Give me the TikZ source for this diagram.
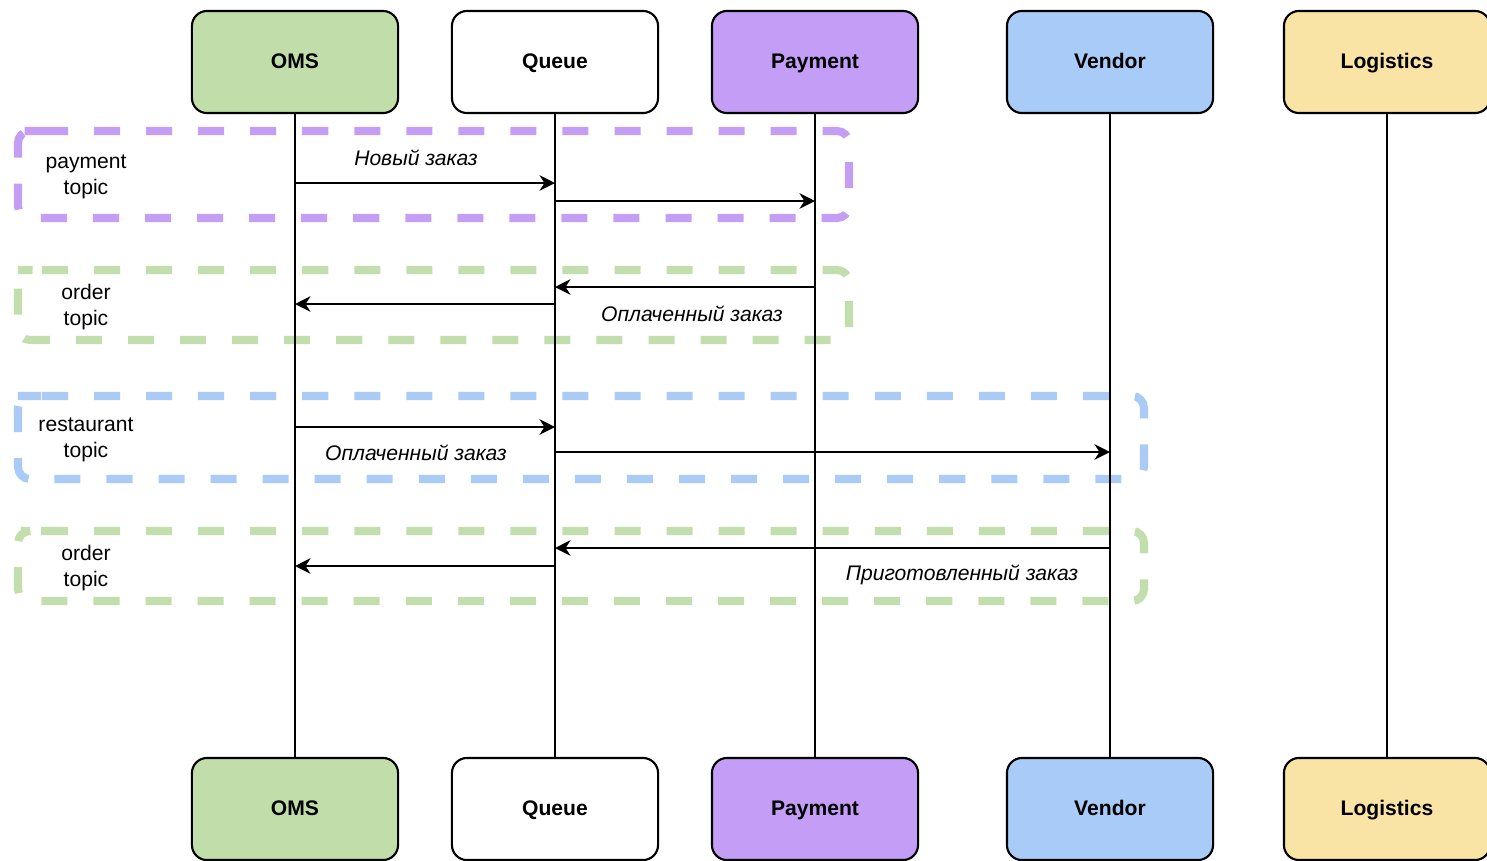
\documentclass[tikz,border=0pt]{standalone}
\usepackage{fontspec}
\setmainfont{Liberation Sans}
\usetikzlibrary{arrows.meta}
\definecolor{cgreen}{HTML}{C1DEAA}
\definecolor{cpurple}{HTML}{C39DF6}
\definecolor{cblue}{HTML}{A8CBF8}
\definecolor{cyellow}{HTML}{F9E4A5}
\definecolor{dgreen}{HTML}{C3DEAD}
\definecolor{dpurple}{HTML}{C49EF4}
\definecolor{dblue}{HTML}{A9CBF6}
\tikzset{
  actor/.style={draw=black, line width=0.6pt, rounded corners=0.15cm, minimum width=2.06cm, minimum height=1.02cm, font=\fontsize{6}{7.2}\selectfont\bfseries, inner sep=0pt, text height=4.6pt, text depth=1pt},
  lifeline/.style={draw=black, line width=0.5pt},
  msg/.style={draw=black, line width=0.5pt, -{Stealth[length=4.4pt,width=4.4pt,inset=1.4pt]}},
  msglabel/.style={font=\fontsize{6}{7.2}\selectfont\itshape, inner sep=0pt},
  topiclabel/.style={font=\fontsize{6}{7.2}\selectfont, align=center, inner sep=0pt},
  region/.style={line width=2.3pt, rounded corners=0.12cm, dash pattern=on 7.4pt off 7.4pt},
}
\begin{document}
\begin{tikzpicture}[x=0.01cm, y=-0.01cm]
\useasboundingbox (0,0) rectangle (1487,860);
\clip (0,0) rectangle (1487,860);
% regions
\draw[region, draw=dpurple] (30,131) -- (849,131) -- (849,218) -- (18,218) -- (18,131) -- cycle;
\draw[region, draw=dgreen] (30,270) -- (849,270) -- (849,340) -- (18,340) -- (18,270) -- cycle;
\draw[region, draw=dblue] (30,396) -- (1144,396) -- (1144,479) -- (18,479) -- (18,396) -- cycle;
\draw[region, draw=dgreen] (30,531) -- (1144,531) -- (1144,601) -- (18,601) -- (18,531) -- cycle;
% actors
\node[actor, fill=cgreen] (omsT) at (295,62) {OMS};
\node[actor, fill=white] (queT) at (555,62) {Queue};
\node[actor, fill=cpurple] (payT) at (815,62) {Payment};
\node[actor, fill=cblue] (venT) at (1110,62) {Vendor};
\node[actor, fill=cyellow] (logT) at (1387,62) {Logistics};
\node[actor, fill=cgreen] (omsB) at (295,809) {OMS};
\node[actor, fill=white] (queB) at (555,809) {Queue};
\node[actor, fill=cpurple] (payB) at (815,809) {Payment};
\node[actor, fill=cblue] (venB) at (1110,809) {Vendor};
\node[actor, fill=cyellow] (logB) at (1387,809) {Logistics};
% lifelines
\draw[lifeline] (omsT.south) -- (omsB.north);
\draw[lifeline] (queT.south) -- (queB.north);
\draw[lifeline] (payT.south) -- (payB.north);
\draw[lifeline] (venT.south) -- (venB.north);
\draw[lifeline] (logT.south) -- (logB.north);
% messages
\draw[msg] (omsT |- 0,183) -- (queT |- 0,183);
\draw[msg] (queT |- 0,201) -- (payT |- 0,201);
\draw[msg] (payT |- 0,287) -- (queT |- 0,287);
\draw[msg] (queT |- 0,304) -- (omsT |- 0,304);
\draw[msg] (omsT |- 0,427) -- (queT |- 0,427);
\draw[msg] (queT |- 0,452) -- (venT |- 0,452);
\draw[msg] (venT |- 0,548) -- (queT |- 0,548);
\draw[msg] (queT |- 0,566) -- (omsT |- 0,566);
% message labels
\node[msglabel] (l1) at (416,158) {Новый заказ};
\node[msglabel] (l2) at (692,314) {Оплаченный заказ};
\node[msglabel] (l3) at (416,453) {Оплаченный заказ};
\node[msglabel] (l4) at (962,575) {Приготовленный заказ};
% topic labels
\node[topiclabel] (t1) at (86,177) {payment\\topic};
\node[topiclabel] (t2) at (86,307) {order\\topic};
\node[topiclabel] (t3) at (86,440) {restaurant\\topic};
\node[topiclabel] (t4) at (86,568) {order\\topic};
\end{tikzpicture}
\end{document}
